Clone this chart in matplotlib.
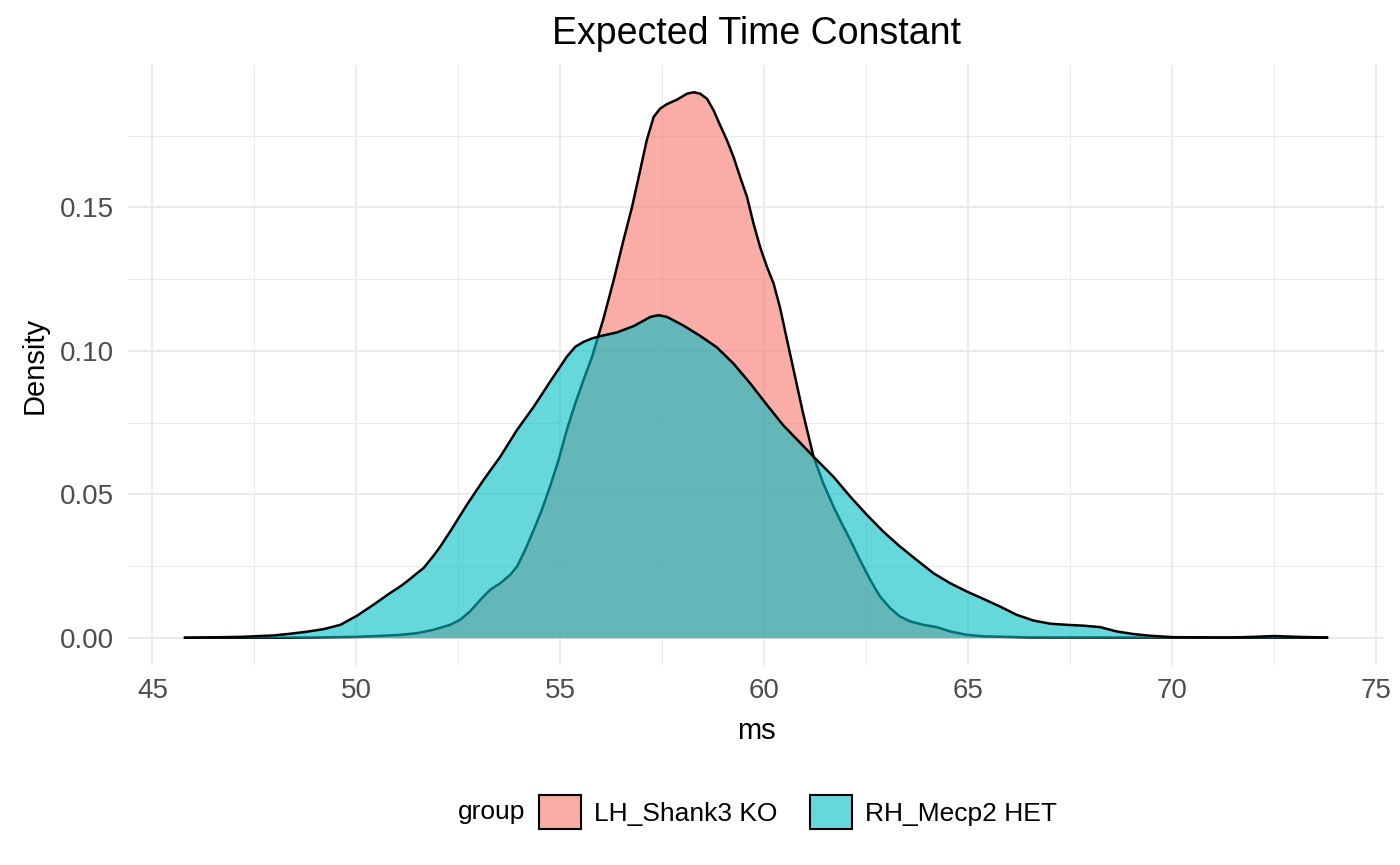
import matplotlib
matplotlib.use("Agg")
import matplotlib.pyplot as plt
from matplotlib.patches import Patch
from matplotlib.ticker import MultipleLocator, FormatStrFormatter

plt.rcParams['font.family'] = ['Liberation Sans', 'DejaVu Sans']

# density curves (ms vs density)
shank_x = [45.8, 48.0, 49.0, 50.0, 50.5, 51.08, 51.49, 51.9, 52.3, 52.55,
           52.79, 53.04, 53.28, 53.53, 53.77, 53.94, 54.14, 54.35, 54.55, 54.75,
           54.96, 55.16, 55.37, 55.57, 55.78, 55.94, 56.06, 56.31, 56.55, 56.76,
           56.96, 57.12, 57.29, 57.45, 57.61, 57.86, 58.11, 58.27, 58.43, 58.6,
           58.76, 58.92, 59.09, 59.25, 59.41, 59.58, 59.74, 59.9, 60.07, 60.23,
           60.39, 60.55, 60.75, 60.95, 61.21, 61.45, 61.7, 61.9, 62.11,
           62.35, 62.6, 62.84, 63.09, 63.33, 63.58, 63.9, 64.23, 64.56, 64.97,
           65.38, 66.5, 73.8]
shank_y = [0.0, 0.0, 0.0001, 0.0003, 0.0006, 0.001, 0.0016, 0.0028, 0.0045, 0.0063,
           0.0092, 0.0132, 0.0167, 0.019, 0.0219, 0.0248, 0.0306, 0.0376, 0.0446, 0.0527,
           0.062, 0.0724, 0.0817, 0.0898, 0.0979, 0.1055, 0.1112, 0.1246, 0.1385, 0.1501,
           0.1629, 0.1733, 0.1815, 0.1844, 0.1859, 0.1875, 0.1896, 0.1901, 0.1896, 0.1878,
           0.1838, 0.1786, 0.1733, 0.1675, 0.1606, 0.1536, 0.1443, 0.1362, 0.1292, 0.1235,
           0.1150, 0.1045, 0.0915, 0.0785, 0.0631, 0.0538, 0.0457, 0.0399, 0.0341,
           0.0271, 0.0202, 0.0144, 0.0103, 0.0074, 0.0057, 0.0045, 0.0037, 0.0022, 0.001,
           0.0005, 0.0001, 0.0]

mecp2_x = [45.8, 47.16, 47.97, 48.38, 48.79, 49.2, 49.61, 50.02, 50.42, 50.83,
           51.08, 51.24, 51.49, 51.65, 51.9, 52.06, 52.3, 52.71, 53.12, 53.53,
           53.94, 54.35, 54.75, 55.16, 55.37, 55.57, 55.78, 55.98, 56.39, 56.8,
           57.21, 57.41, 57.62, 58.02, 58.43, 58.84, 59.25, 59.66, 60.07, 60.47,
           60.88, 61.21, 61.7, 62.11, 62.52, 62.92, 63.33, 63.74, 64.15, 64.56,
           64.97, 65.38, 65.78, 66.19, 66.6, 67.01, 67.42, 67.83, 68.24, 68.64,
           69.05, 69.46, 70.03, 71.0, 71.5, 72.0, 72.5, 73.1, 73.8]
mecp2_y = [0.0, 0.0003, 0.0008, 0.0014, 0.0021, 0.003, 0.0045, 0.0077, 0.0115, 0.0156,
           0.0179, 0.0196, 0.0225, 0.0243, 0.0287, 0.0318, 0.037, 0.0463, 0.055, 0.0631,
           0.0724, 0.0805, 0.0892, 0.0979, 0.1014, 0.1031, 0.1043, 0.1051, 0.1064, 0.1086,
           0.1118, 0.1124, 0.1118, 0.1088, 0.1052, 0.1012, 0.0955, 0.0886, 0.0811, 0.0740,
           0.0680, 0.0631, 0.0561, 0.0492, 0.0428, 0.037, 0.0318, 0.0271, 0.0225, 0.019,
           0.0161, 0.0135, 0.0109, 0.008, 0.006, 0.0049, 0.0045, 0.0042, 0.0037, 0.0022,
           0.0013, 0.0007, 0.0002, 0.0001, 0.0001, 0.0003, 0.0006, 0.0003, 0.0001]

groups = ["LH_Shank3 KO", "RH_Mecp2 HET"]
colors = ["#F8766D", "#00BFC4"]

fig = plt.figure(figsize=(14, 8.65), dpi=100)
ax = fig.add_axes([0.0914, 0.2312, 0.8972, 0.6937])

z = 2
for xs, ys, c in [(shank_x, shank_y, colors[0]), (mecp2_x, mecp2_y, colors[1])]:
    ax.fill_between(xs, 0, ys, color=c, alpha=0.6, linewidth=0, zorder=z)
    ax.plot(xs, ys, color='black', linewidth=1.8, zorder=z + 1,
            solid_joinstyle='round')
    z += 2

# ggplot-like expansion
xmin, xmax = 45.8, 73.8
ymax = max(max(shank_y), max(mecp2_y))
ax.set_xlim(xmin - 0.05 * (xmax - xmin), xmax + 0.05 * (xmax - xmin))
ax.set_ylim(-0.05 * ymax, ymax * 1.05)

ax.xaxis.set_major_locator(MultipleLocator(5))
ax.xaxis.set_minor_locator(MultipleLocator(2.5))
ax.yaxis.set_major_locator(MultipleLocator(0.05))
ax.yaxis.set_minor_locator(MultipleLocator(0.025))
ax.yaxis.set_major_formatter(FormatStrFormatter('%.2f'))

ax.grid(True, which='major', color='#EBEBEB', linewidth=1.4)
ax.grid(True, which='minor', color='#EBEBEB', linewidth=0.75)
ax.set_axisbelow(True)
for s in ax.spines.values():
    s.set_visible(False)
ax.tick_params(which='both', length=0)
ax.tick_params(axis='x', labelsize=20, labelcolor='#4D4D4D', pad=9)
ax.tick_params(axis='y', labelsize=20, labelcolor='#4D4D4D', pad=10)

ax.set_xlabel('ms', fontsize=21, labelpad=10)
ax.set_ylabel('Density', fontsize=21, labelpad=8)
ax.set_title('Expected Time Constant', fontsize=27, pad=15)

handles = [Patch(facecolor=matplotlib.colors.to_rgba(c, 0.6), edgecolor='black', linewidth=1.5)
           for c in colors]
leg = fig.legend(handles, groups, loc='center', bbox_to_anchor=(0.57, 0.061), ncol=2,
                 frameon=False, fontsize=19, handlelength=1.6, handleheight=1.6,
                 handletextpad=0.5, columnspacing=1.2)
fig.text(0.375, 0.061, 'group', fontsize=19, ha='right', va='center')

fig.savefig('out.png', dpi=100)
